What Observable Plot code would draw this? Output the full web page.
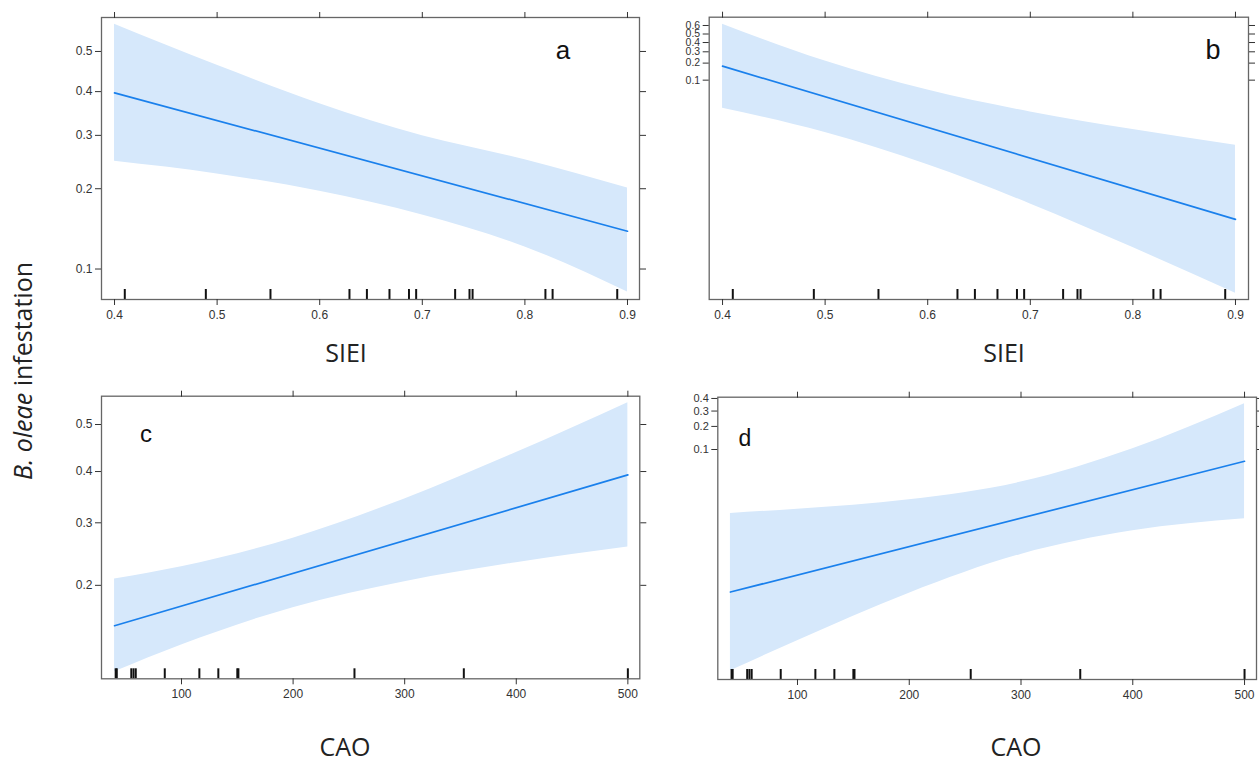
<!DOCTYPE html>
<html><head><meta charset="utf-8">
<script src="https://cdn.jsdelivr.net/npm/d3@7"></script>
<script src="https://cdn.jsdelivr.net/npm/@observablehq/plot@0.6"></script>
<style>
html,body{margin:0;padding:0;background:#fff}
body{width:1259px;height:760px;position:relative;overflow:hidden;font-family:"Liberation Sans",Arial,sans-serif}
.panel{position:absolute}
.lab{position:absolute;font-family:"Liberation Sans",Arial,sans-serif;color:#111;transform:translate(-50%,-50%);white-space:nowrap;line-height:1}
.ttl{position:absolute;font-family:"Open Sans",sans-serif;color:#222;transform:translate(-50%,-50%);white-space:nowrap;line-height:1}
</style></head><body>
<script>
// ---------- data ----------
const sieiGrid = [0.4, 0.5, 0.6, 0.7, 0.8, 0.9];
const caoGrid = [40, 100, 200, 300, 400, 500];
const sieiEnds = [0.4, 0.9];
const caoEnds = [40, 500];

// panel a (SIEI, probability scale)
const aFit = [0.397, 0.140];
const aUpper = [0.568, 0.465, 0.371, 0.299, 0.251, 0.201];
const aLower = [0.248, 0.225, 0.196, 0.161, 0.122, 0.081];
// panel b (SIEI)
const bFit = [0.178, 0.000147];
const bUpper = [0.615, 0.216, 0.0648, 0.0239, 0.0105, 0.00497];
const bLower = [0.0285, 0.00911, 0.00197, 0.000307, 0.0000383, 0.00000437];
// panel c (CAO)
const cFit = [0.150, 0.393];
const cUpper = [0.209, 0.227, 0.273, 0.345, 0.440, 0.547];
const cLower = [0.106, 0.130, 0.171, 0.205, 0.233, 0.258];
// panel d (CAO)
const dFit = [0.000746, 0.0685];
const dUpper = [0.01166, 0.01351, 0.0187, 0.0342, 0.1025, 0.3566];
const dLower = [0.0000472, 0.000135, 0.000717, 0.00279, 0.00637, 0.00966];

// rug observations
const sieiRug = [0.41, 0.489, 0.552, 0.629, 0.646, 0.668, 0.687, 0.694, 0.732, 0.746, 0.749, 0.82, 0.827, 0.89];
const caoRug = [41, 42, 55, 57, 59, 85, 116, 133, 150, 151, 255, 353, 500];

// tick labels
const sieiTicks = [0.4, 0.5, 0.6, 0.7, 0.8, 0.9];
const caoTicks = [100, 200, 300, 400, 500];
const aYTicks = [0.1, 0.2, 0.3, 0.4, 0.5];
const bYTicks = [0.1, 0.2, 0.3, 0.4, 0.5, 0.6];
const cYTicks = [0.2, 0.3, 0.4, 0.5];
const dYTicks = [0.1, 0.2, 0.3, 0.4];

// ---------- drawing ----------
const logit = p => Math.log(p / (1 - p));
const expit = l => 1 / (1 + Math.exp(-l));
const fmt = l => String(+expit(l).toFixed(1));

function panel(o) {
  const band = o.grid.map((x, i) => ({x, lo: o.lower[i], hi: o.upper[i]}));
  const fit = o.ends.map((x, i) => ({x, p: o.fit[i]}));
  const plotH = o.height - o.mt - o.mb;
  const chart = Plot.plot({
    width: o.width, height: o.height,
    marginLeft: o.ml, marginRight: o.mr, marginTop: o.mt, marginBottom: o.mb,
    style: {fontFamily: "Liberation Sans, Arial, sans-serif", color: "#333", background: "transparent", overflow: "visible"},
    x: {domain: o.xDomain},
    y: {domain: o.yDomain},
    marks: [
      Plot.areaY(band, {x: "x", y1: d => logit(d.lo), y2: d => logit(d.hi), fill: "#d6e8fb", curve: "monotone-x"}),
      Plot.lineY(fit, {x: "x", y: d => logit(d.p), stroke: "#1a80ec", strokeWidth: 1.7}),
      Plot.tickX(o.rug, {x: d => d, insetTop: plotH - 10, stroke: "#111", strokeWidth: 2}),
      Plot.frame({stroke: "#666", strokeWidth: 1.3}),
      Plot.axisX({anchor: "bottom", ticks: o.xTicks, tickSize: 6, tickPadding: 5, fontSize: o.fs, label: null, tickFormat: d => String(d)}),
      Plot.axisX({anchor: "top", ticks: o.xTicks, tickSize: 6, label: null, tickFormat: () => ""}),
      Plot.axisY({anchor: "left", ticks: o.yTicks.map(logit), tickSize: 6, tickPadding: 3, fontSize: o.yfs, label: null, tickFormat: fmt}),
      Plot.axisY({anchor: "right", ticks: o.yTicks.map(logit), tickSize: 6, label: null, tickFormat: () => ""})
    ]
  });
  chart.classList.add("panel");
  chart.style.left = o.left + "px";
  chart.style.top = o.top + "px";
  document.body.appendChild(chart);
}

panel({left: 0, top: 0, width: 650, height: 330, ml: 101, mr: 11, mt: 17, mb: 31,
  xDomain: [0.3873, 0.9117], yDomain: [-2.505, 0.343],
  grid: sieiGrid, ends: sieiEnds, upper: aUpper, lower: aLower, fit: aFit, rug: sieiRug,
  xTicks: sieiTicks, yTicks: aYTicks, fs: 12, yfs: 12});
panel({left: 600, top: 0, width: 659, height: 330, ml: 108.7, mr: 11, mt: 16.7, mb: 31,
  xDomain: [0.387, 0.9127], yDomain: [-12.64, 0.8],
  grid: sieiGrid, ends: sieiEnds, upper: bUpper, lower: bLower, fit: bFit, rug: sieiRug,
  xTicks: sieiTicks, yTicks: bYTicks, fs: 12, yfs: 10.5});
panel({left: 0, top: 340, width: 650, height: 370, ml: 101, mr: 10.7, mt: 55.7, mb: 31.7,
  xDomain: [28.3, 510.7], yDomain: [-2.192, 0.244],
  grid: caoGrid, ends: caoEnds, upper: cUpper, lower: cLower, fit: cFit, rug: caoRug,
  xTicks: caoTicks, yTicks: cYTicks, fs: 12, yfs: 12});
panel({left: 600, top: 340, width: 659, height: 370, ml: 117.3, mr: 3, mt: 56.7, mb: 31,
  xDomain: [28.7, 510.7], yDomain: [-10.27, -0.361],
  grid: caoGrid, ends: caoEnds, upper: dUpper, lower: dLower, fit: dFit, rug: caoRug,
  xTicks: caoTicks, yTicks: dYTicks, fs: 12, yfs: 11});

// text labels
function label(cls, html, x, y, size, extra) {
  const d = document.createElement("div");
  d.className = cls;
  d.innerHTML = html;
  d.style.left = x + "px"; d.style.top = y + "px"; d.style.fontSize = size + "px";
  if (extra) Object.assign(d.style, extra);
  document.body.appendChild(d);
}
label("lab", "a", 563, 50, 26);
label("lab", "b", 1213, 50, 27);
label("lab", "c", 146, 434, 24);
label("lab", "d", 745, 438, 23);
label("ttl", "SIEI", 346, 352, 25);
label("ttl", "SIEI", 1004, 352, 25);
label("ttl", "CAO", 345, 746, 25);
label("ttl", "CAO", 1016, 746, 25);
label("ttl", "<i>B. oleae</i> infestation", 22, 371, 25, {transform: "translate(-50%,-50%) rotate(-90deg)"});
</script>
</body></html>
